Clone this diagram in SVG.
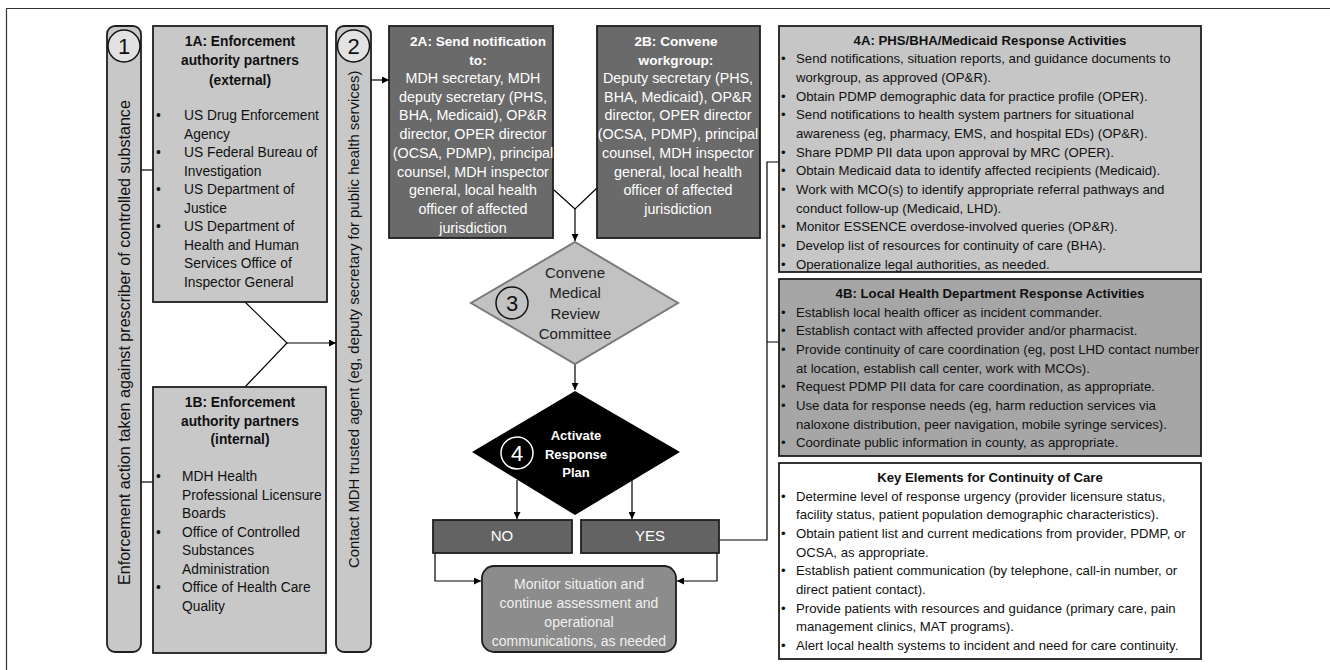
<svg xmlns="http://www.w3.org/2000/svg" width="1330" height="670" viewBox="0 0 1330 670">
<defs>
<marker id="arr" viewBox="0 0 10 10" refX="10" refY="5" markerWidth="7" markerHeight="7" orient="auto" markerUnits="userSpaceOnUse"><path d="M0,0 L10,5 L0,10 z" fill="#000"/></marker>
<style>
text{font-family:"Liberation Sans",Arial,sans-serif;}
.box{stroke:#1e1e1e;stroke-width:1.8;}
.lt{fill:#c8c8c8;}
.dk{fill:#6a6a6a;}
.t{font-size:13.2px;fill:#111;}
.tb{font-size:13.2px;fill:#111;font-weight:bold;}
.s1{font-size:13.8px;fill:#111;}
.s1b{font-size:13.8px;fill:#111;font-weight:bold;}
.s2{font-size:14.3px;fill:#fff;}
.s2b{font-size:13.6px;fill:#fff;font-weight:bold;}
.col{fill:#111;}
.num{font-size:22px;text-anchor:middle;}
.c{stroke:#000;stroke-width:1.2;fill:none;}
</style>
</defs>
<rect width="1330" height="670" fill="#fff"/>
<path d="M6.5,670 V8.5 H1330" fill="none" stroke="#333" stroke-width="1.2"/>

<g id="connectors">
<path class="c" d="M141,170 H153"/>
<path class="c" d="M141,482 H153"/>
<path class="c" d="M245,302 L287,343 L245,387"/>
<path class="c" d="M287,343 H336" marker-end="url(#arr)"/>
<path class="c" d="M371,80 H389" marker-end="url(#arr)"/>
<path class="c" d="M554,190 L575,209 L597,188"/>
<path class="c" d="M575,209 V241" marker-end="url(#arr)"/>
<path class="c" d="M575,364 V390" marker-end="url(#arr)"/>
<path class="c" d="M517,480 V519" marker-end="url(#arr)"/>
<path class="c" d="M632,480 V519" marker-end="url(#arr)"/>
<path class="c" d="M435,553 V581 H481" marker-end="url(#arr)"/>
<path class="c" d="M717,553 V581 H677" marker-end="url(#arr)"/>
<path class="c" d="M719,540 H767 V162 H779 M767,342 H779" stroke="#333"/>
</g>

<g id="col1">
<rect x="107" y="26" width="34" height="626" rx="8" class="box lt"/>
<circle cx="124" cy="46" r="16" fill="#e2e2e2" stroke="#111" stroke-width="1.5"/>
<text x="124" y="54" class="num" fill="#111">1</text>
<text class="col" font-size="16.1" transform="translate(129.5,585) rotate(-90)">Enforcement action taken against prescriber of controlled substance</text>
</g>

<g id="n1A">
<rect x="153" y="26" width="174" height="276" class="box lt"/>
<text class="s1b" text-anchor="middle"><tspan x="240" y="46">1A: Enforcement</tspan><tspan x="240" y="65">authority partners</tspan><tspan x="240" y="84.5">(external)</tspan></text>
<text class="s1"><tspan x="156" y="120">•</tspan><tspan x="156" y="157.1">•</tspan><tspan x="156" y="194.2">•</tspan><tspan x="156" y="231.3">•</tspan></text>
<text class="s1"><tspan x="184" y="120">US Drug Enforcement</tspan><tspan x="184" y="138.6">Agency</tspan><tspan x="184" y="157.1">US Federal Bureau of</tspan><tspan x="184" y="175.7">Investigation</tspan><tspan x="184" y="194.2">US Department of</tspan><tspan x="184" y="212.8">Justice</tspan><tspan x="184" y="231.3">US Department of</tspan><tspan x="184" y="249.9">Health and Human</tspan><tspan x="184" y="268.4">Services Office of</tspan><tspan x="184" y="287">Inspector General</tspan></text>
</g>

<g id="n1B">
<rect x="153" y="387" width="173" height="266" class="box lt"/>
<text class="s1b" text-anchor="middle"><tspan x="240" y="407">1B: Enforcement</tspan><tspan x="240" y="425.5">authority partners</tspan><tspan x="240" y="444">(internal)</tspan></text>
<text class="s1"><tspan x="156" y="481">•</tspan><tspan x="156" y="536.5">•</tspan><tspan x="156" y="592">•</tspan></text>
<text class="s1"><tspan x="182" y="481">MDH Health</tspan><tspan x="182" y="499.5">Professional Licensure</tspan><tspan x="182" y="518">Boards</tspan><tspan x="182" y="536.5">Office of Controlled</tspan><tspan x="182" y="555">Substances</tspan><tspan x="182" y="573.5">Administration</tspan><tspan x="182" y="592">Office of Health Care</tspan><tspan x="182" y="610.5">Quality</tspan></text>
</g>

<g id="col2">
<rect x="336" y="26" width="35" height="626" rx="8" class="box lt"/>
<circle cx="353.5" cy="46" r="16" fill="#e2e2e2" stroke="#111" stroke-width="1.5"/>
<text x="353.5" y="54" class="num" fill="#111">2</text>
<text class="col" font-size="14.9" transform="translate(359,568) rotate(-90)">Contact MDH trusted agent (eg, deputy secretary for public health services)</text>
</g>

<g id="n2A">
<rect x="389" y="26" width="164" height="212" class="box dk"/>
<text class="s2b" text-anchor="middle"><tspan x="478" y="46">2A: Send notification</tspan><tspan x="478" y="65">to:</tspan></text>
<text class="s2" text-anchor="middle"><tspan x="473" y="82.7">MDH secretary, MDH</tspan><tspan x="473" y="101.5">deputy secretary (PHS,</tspan><tspan x="473" y="120.2">BHA, Medicaid), OP&amp;R</tspan><tspan x="473" y="139">director, OPER director</tspan><tspan x="473" y="157.7">(OCSA, PDMP), principal</tspan><tspan x="473" y="176.5">counsel, MDH inspector</tspan><tspan x="473" y="195.2">general, local health</tspan><tspan x="473" y="214">officer of affected</tspan><tspan x="473" y="232.7">jurisdiction</tspan></text>
</g>

<g id="n2B">
<rect x="597" y="26" width="163" height="212" class="box dk"/>
<text class="s2b" text-anchor="middle"><tspan x="676" y="46">2B: Convene</tspan><tspan x="676" y="65">workgroup:</tspan></text>
<text class="s2" text-anchor="middle"><tspan x="678" y="82.7">Deputy secretary (PHS,</tspan><tspan x="678" y="101.5">BHA, Medicaid), OP&amp;R</tspan><tspan x="678" y="120.2">director, OPER director</tspan><tspan x="678" y="139">(OCSA, PDMP), principal</tspan><tspan x="678" y="157.7">counsel, MDH inspector</tspan><tspan x="678" y="176.5">general, local health</tspan><tspan x="678" y="195.2">officer of affected</tspan><tspan x="678" y="214">jurisdiction</tspan></text>
</g>

<g id="n3">
<polygon points="575,242 678,303 575,364 471,303" fill="#c2c2c2" stroke="#7a7a7a" stroke-width="2"/>
<circle cx="512" cy="303" r="16" fill="none" stroke="#111" stroke-width="1.5"/>
<text x="512" y="311" class="num" fill="#111">3</text>
<text text-anchor="middle" font-size="15" fill="#222"><tspan x="575" y="278">Convene</tspan><tspan x="575" y="298.3">Medical</tspan><tspan x="575" y="318.6">Review</tspan><tspan x="575" y="339">Committee</tspan></text>
</g>

<g id="n4">
<polygon points="575,391 680,452 575,515 472,452" fill="#000"/>
<circle cx="517" cy="453" r="16" fill="none" stroke="#fff" stroke-width="1.5"/>
<text x="517" y="461" class="num" fill="#fff">4</text>
<text text-anchor="middle" font-size="13" font-weight="bold" fill="#fff"><tspan x="576" y="440">Activate</tspan><tspan x="576" y="458.5">Response</tspan><tspan x="576" y="477">Plan</tspan></text>
</g>

<g id="nNO">
<rect x="433" y="520" width="139" height="33" class="box" fill="#636363"/>
<text x="502" y="540.5" text-anchor="middle" font-size="15" fill="#fff">NO</text>
</g>

<g id="nYES">
<rect x="581" y="520" width="138" height="33" class="box" fill="#636363"/>
<text x="650" y="540.5" text-anchor="middle" font-size="15" fill="#fff">YES</text>
</g>

<g id="monitor">
<rect x="482" y="566" width="194" height="86" rx="12" class="box" fill="#8c8c8c"/>
<text text-anchor="middle" font-size="14" fill="#f0f0f0"><tspan x="579" y="589">Monitor situation and</tspan><tspan x="579" y="608">continue assessment and</tspan><tspan x="579" y="627">operational</tspan><tspan x="579" y="645.5">communications, as needed</tspan></text>
</g>

<g id="n4A">
<rect x="779" y="26" width="422" height="246" class="box" fill="#c6c6c6"/>
<text x="990" y="44.5" text-anchor="middle" class="tb">4A: PHS/BHA/Medicaid Response Activities</text>
<text class="t"><tspan x="781" y="63.2">•</tspan><tspan x="781" y="100.5">•</tspan><tspan x="781" y="119.2">•</tspan><tspan x="781" y="156.5">•</tspan><tspan x="781" y="175.2">•</tspan><tspan x="781" y="193.8">•</tspan><tspan x="781" y="231.2">•</tspan><tspan x="781" y="249.8">•</tspan><tspan x="781" y="268.5">•</tspan></text>
<text class="t"><tspan x="796" y="63.2">Send notifications, situation reports, and guidance documents to</tspan><tspan x="796" y="81.8">workgroup, as approved (OP&amp;R).</tspan><tspan x="796" y="100.5">Obtain PDMP demographic data for practice profile (OPER).</tspan><tspan x="796" y="119.2">Send notifications to health system partners for situational</tspan><tspan x="796" y="137.8">awareness (eg, pharmacy, EMS, and hospital EDs) (OP&amp;R).</tspan><tspan x="796" y="156.5">Share PDMP PII data upon approval by MRC (OPER).</tspan><tspan x="796" y="175.2">Obtain Medicaid data to identify affected recipients (Medicaid).</tspan><tspan x="796" y="193.8">Work with MCO(s) to identify appropriate referral pathways and</tspan><tspan x="796" y="212.5">conduct follow-up (Medicaid, LHD).</tspan><tspan x="796" y="231.2">Monitor ESSENCE overdose-involved queries (OP&amp;R).</tspan><tspan x="796" y="249.8">Develop list of resources for continuity of care (BHA).</tspan><tspan x="796" y="268.5">Operationalize legal authorities, as needed.</tspan></text>
</g>

<g id="n4B">
<rect x="779" y="279" width="422" height="177" class="box" fill="#a6a6a6"/>
<text x="990" y="297.8" text-anchor="middle" class="tb">4B: Local Health Department Response Activities</text>
<text class="t"><tspan x="781" y="316.5">•</tspan><tspan x="781" y="335.2">•</tspan><tspan x="781" y="353.8">•</tspan><tspan x="781" y="391.2">•</tspan><tspan x="781" y="409.8">•</tspan><tspan x="781" y="447.2">•</tspan></text>
<text class="t"><tspan x="796" y="316.5">Establish local health officer as incident commander.</tspan><tspan x="796" y="335.2">Establish contact with affected provider and/or pharmacist.</tspan><tspan x="796" y="353.8">Provide continuity of care coordination (eg, post LHD contact number</tspan><tspan x="796" y="372.5">at location, establish call center, work with MCOs).</tspan><tspan x="796" y="391.2">Request PDMP PII data for care coordination, as appropriate.</tspan><tspan x="796" y="409.8">Use data for response needs (eg, harm reduction services via</tspan><tspan x="796" y="428.5">naloxone distribution, peer navigation, mobile syringe services).</tspan><tspan x="796" y="447.2">Coordinate public information in county, as appropriate.</tspan></text>
</g>

<g id="keyElements">
<rect x="779" y="463" width="422" height="196" class="box" fill="#fff"/>
<text x="990" y="481.8" text-anchor="middle" class="tb">Key Elements for Continuity of Care</text>
<text class="t"><tspan x="781" y="500.5">•</tspan><tspan x="781" y="537.8">•</tspan><tspan x="781" y="575.2">•</tspan><tspan x="781" y="612.5">•</tspan><tspan x="781" y="649.8">•</tspan></text>
<text class="t"><tspan x="796" y="500.5">Determine level of response urgency (provider licensure status,</tspan><tspan x="796" y="519.2">facility status, patient population demographic characteristics).</tspan><tspan x="796" y="537.8">Obtain patient list and current medications from provider, PDMP, or</tspan><tspan x="796" y="556.5">OCSA, as appropriate.</tspan><tspan x="796" y="575.2">Establish patient communication (by telephone, call-in number, or</tspan><tspan x="796" y="593.8">direct patient contact).</tspan><tspan x="796" y="612.5">Provide patients with resources and guidance (primary care, pain</tspan><tspan x="796" y="631.2">management clinics, MAT programs).</tspan><tspan x="796" y="649.8">Alert local health systems to incident and need for care continuity.</tspan></text>
</g>
</svg>
